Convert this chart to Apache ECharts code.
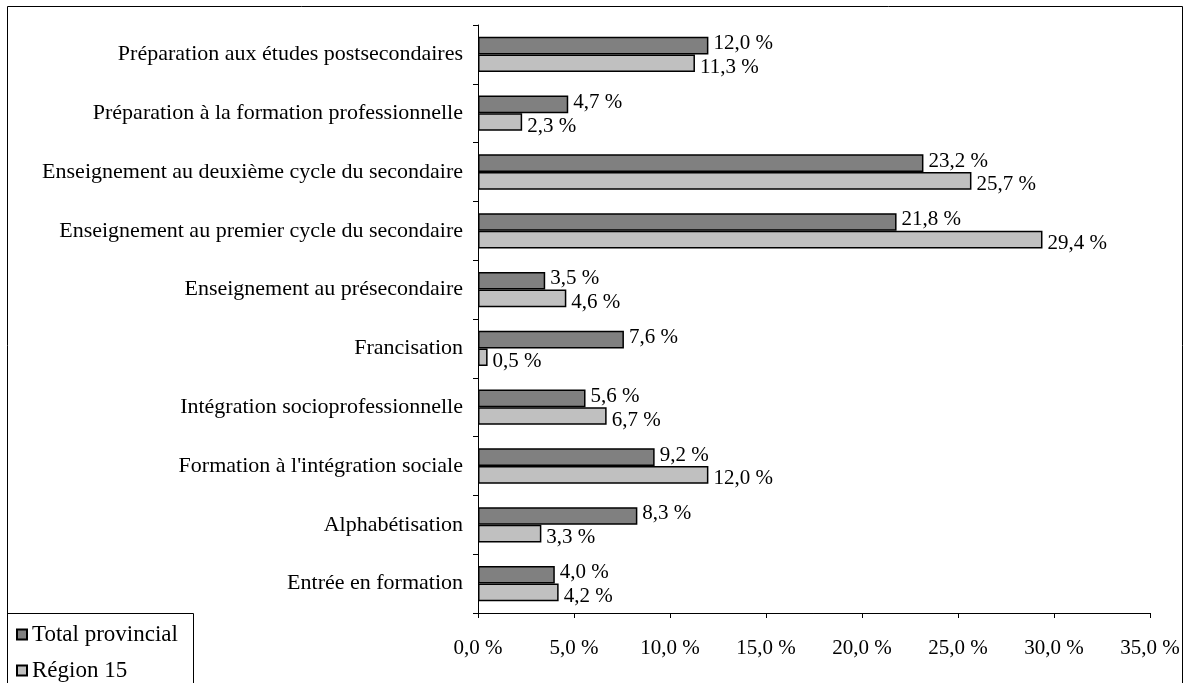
<!DOCTYPE html>
<html>
<head>
<meta charset="utf-8">
<script src="https://cdn.jsdelivr.net/npm/echarts@6/dist/echarts.min.js"></script>
<style>
  html, body { margin: 0; padding: 0; background: #fff; }
  #chart { width: 1192px; height: 683px; }
</style>
</head>
<body>
<div id="chart"></div>
<script>
// categories, top to bottom
const categories = [
  'Préparation aux études postsecondaires',
  'Préparation à la formation professionnelle',
  'Enseignement au deuxième cycle du secondaire',
  'Enseignement au premier cycle du secondaire',
  'Enseignement au présecondaire',
  'Francisation',
  'Intégration socioprofessionnelle',
  "Formation à l'intégration sociale",
  'Alphabétisation',
  'Entrée en formation'
];
const totalProvincial = [12.0, 4.7, 23.2, 21.8, 3.5, 7.6, 5.6, 9.2, 8.3, 4.0];
const region15 = [11.3, 2.3, 25.7, 29.4, 4.6, 0.5, 6.7, 12.0, 3.3, 4.2];
const seriesNames = ['Total provincial', 'Région 15'];

const font = '"Liberation Serif", "DejaVu Serif", serif';
const fs = 21;
const fmt = v => v.toFixed(1).replace('.', ',') + ' %';

const legendBase = {
  orient: 'vertical',
  left: 16,
  itemWidth: 10,
  itemHeight: 10,
  itemGap: 0,
  icon: 'rect',
  padding: 0,
  textStyle: { fontSize: 23, color: '#000', fontFamily: font }
};

const labelBase = {
  show: true,
  position: 'right',
  distance: 5,
  fontSize: fs,
  color: '#000',
  fontFamily: font,
  formatter: p => fmt(p.value)
};

const chart = echarts.init(document.getElementById('chart'));
chart.setOption({
  animation: false,
  textStyle: { fontFamily: font },
  grid: { left: 478, right: 42, top: 25, bottom: 70 },
  xAxis: {
    type: 'value',
    min: 0,
    max: 35,
    interval: 5,
    axisLine: { show: true, lineStyle: { color: '#000', width: 1 } },
    axisTick: { show: true, length: 5, lineStyle: { color: '#000' } },
    splitLine: { show: false },
    axisLabel: {
      formatter: v => fmt(v),
      fontSize: fs,
      color: '#000',
      fontFamily: font,
      margin: 25
    }
  },
  yAxis: {
    type: 'category',
    data: categories,
    inverse: true,
    axisLine: { show: true, lineStyle: { color: '#000', width: 1 } },
    axisTick: { show: true, length: 5, lineStyle: { color: '#000' } },
    axisLabel: { fontSize: 22, color: '#000', fontFamily: font, margin: 15 }
  },
  legend: [
    Object.assign({}, legendBase, { top: 623, data: [seriesNames[0]] }),
    Object.assign({}, legendBase, { top: 659, data: [seriesNames[1]] })
  ],
  graphic: [
    {
      type: 'rect',
      shape: { x: 7.5, y: 6.5, width: 1175, height: 690 },
      style: { fill: 'none', stroke: '#000', lineWidth: 1 },
      silent: true
    },
    {
      type: 'rect',
      shape: { x: 7.5, y: 613.5, width: 186, height: 80 },
      style: { fill: '#fff', stroke: '#000', lineWidth: 1 },
      silent: true,
      z: -1
    }
  ],
  series: [
    {
      name: seriesNames[0],
      type: 'bar',
      data: totalProvincial,
      barGap: '0%',
      barCategoryGap: '40%',
      itemStyle: { color: '#808080', borderColor: '#000', borderWidth: 1.5 },
      label: Object.assign({}, labelBase, { offset: [0, -2] })
    },
    {
      name: seriesNames[1],
      type: 'bar',
      data: region15,
      barGap: '0%',
      barCategoryGap: '40%',
      itemStyle: { color: '#c0c0c0', borderColor: '#000', borderWidth: 1.5 },
      label: Object.assign({}, labelBase, { offset: [0, 4] })
    }
  ]
});
</script>
</body>
</html>
